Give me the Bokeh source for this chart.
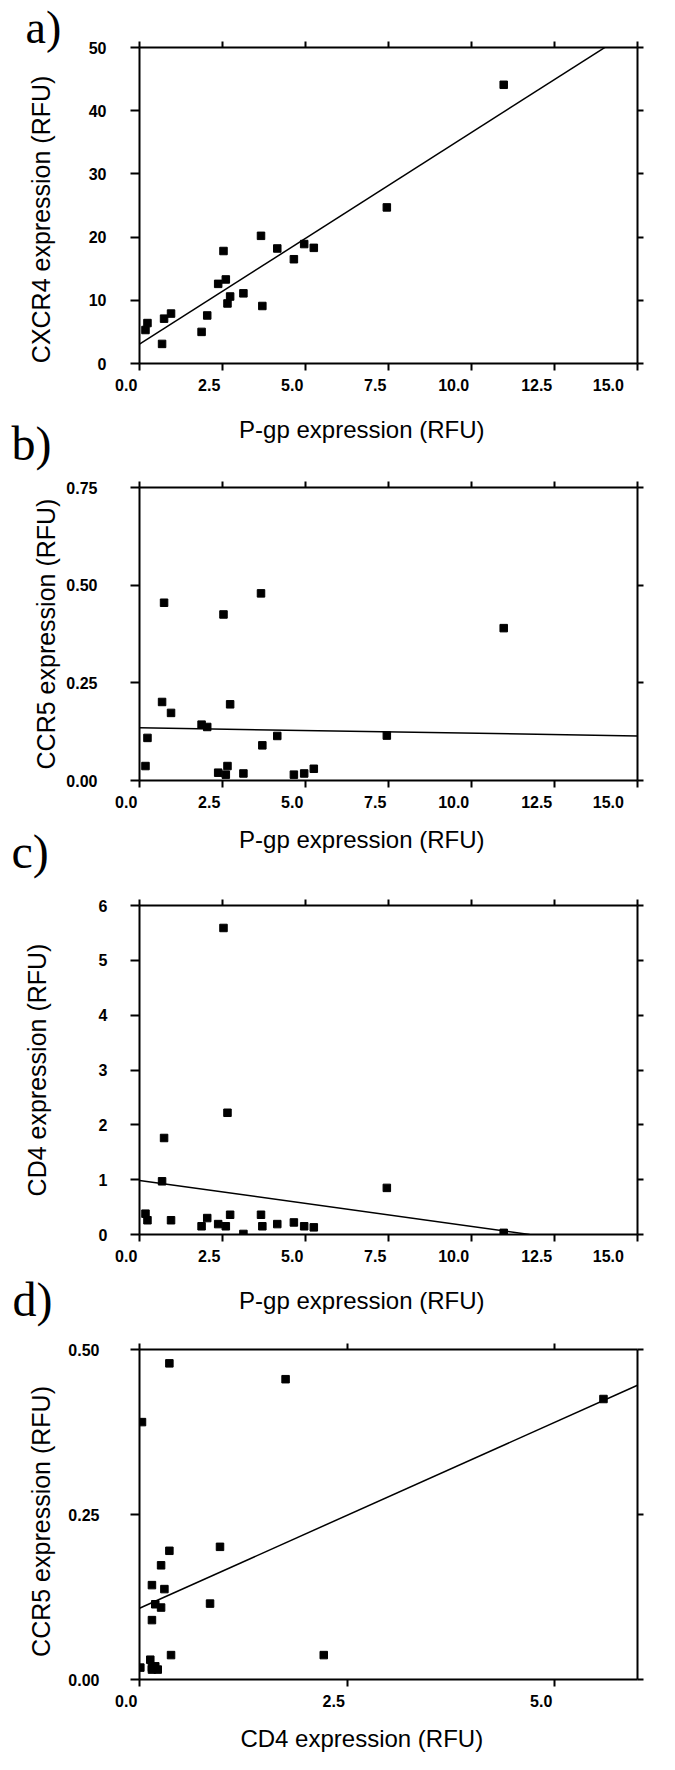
from bokeh.plotting import figure
from bokeh.layouts import column
from bokeh.models import (LinearAxis, FixedTicker, Range1d, Title,
                          PrintfTickFormatter, CustomJSTickFormatter)
from bokeh.embed import file_html
from bokeh.resources import INLINE

# ---------------- data (one entry per patient) ----------------
pgp   = [0.18, 0.24, 0.68, 0.74, 0.95, 1.87, 2.04, 2.37, 2.53, 2.60, 2.65,
         2.73, 3.13, 3.66, 3.70, 4.15, 4.65, 4.96, 5.25, 7.45, 10.97]
cxcr4 = [5.3, 6.4, 3.1, 7.1, 7.9, 5.0, 7.6, 12.6, 17.8, 13.3, 9.5,
         10.6, 11.1, 20.2, 9.1, 18.2, 16.5, 18.9, 18.3, 24.7, 44.1]
ccr5  = [0.037, 0.109, 0.201, 0.455, 0.173, 0.143, 0.137, 0.020, 0.425, 0.015, 0.037,
         0.195, 0.018, 0.479, 0.090, 0.114, 0.015, 0.018, 0.030, 0.115, 0.390]
cd4   = [0.38, 0.26, 0.97, 1.76, 0.26, 0.15, 0.30, 0.19, 5.59, 0.15, 2.22,
         0.36, 0.01, 0.36, 0.15, 0.19, 0.22, 0.15, 0.13, 0.85, 0.03]

# regression lines: [intercept, slope], drawn over fit_x_*
fit_a = [3.05, 3.35]
fit_b = [0.135, -0.0014]
fit_c = [0.985, -0.0838]
fit_d = [0.108, 0.0563]
fit_x_a = [0.0, 15.0]
fit_x_b = [0.0, 15.0]
fit_x_c = [0.0, 11.75]
fit_x_d = [0.0, 6.0]

x_ticks_pgp = [0, 2.5, 5, 7.5, 10, 12.5, 15]
y_ticks_a = [0, 10, 20, 30, 40, 50]
y_ticks_b = [0, 0.25, 0.5, 0.75]
y_ticks_c = [0, 1, 2, 3, 4, 5, 6]
x_ticks_d = [0, 2.5, 5]
y_ticks_d = [0, 0.25, 0.5]

TICK_FONT = "Liberation Sans"
LABEL_FONT = "Liberation Sans"
LETTER_FONT = "Liberation Serif"
W = 659
FS = "\u2007"  # figure space, used to nudge centred texts sideways


def make_axis(ticks, fmt=None, out=7, standoff=6, label=None, label_size="24px",
              label_standoff=10, right_align_digits=None):
    ax = LinearAxis(ticker=FixedTicker(ticks=ticks))
    ax.axis_line_width = 2
    ax.axis_line_color = "black"
    ax.major_tick_line_width = 2
    ax.major_tick_line_color = "black"
    ax.major_tick_in = 0
    ax.major_tick_out = out
    ax.minor_tick_line_color = None
    if fmt is None and right_align_digits is None:
        ax.formatter = CustomJSTickFormatter(code="return ''")
        ax.major_label_standoff = 0
        ax.major_label_text_font_size = "1px"
    else:
        if right_align_digits is not None:
            # labels end at their tick, as in the original figure
            ax.formatter = CustomJSTickFormatter(
                code="const s = tick.toFixed(%d); return s + '\\u2007'.repeat(s.length);"
                % right_align_digits)
        else:
            ax.formatter = PrintfTickFormatter(format=fmt)
        ax.major_label_text_font = TICK_FONT
        ax.major_label_text_font_style = "bold"
        ax.major_label_text_font_size = "16px"
        ax.major_label_text_color = "black"
        ax.major_label_standoff = standoff
    if label:
        ax.axis_label = label
        ax.axis_label_text_font = LABEL_FONT
        ax.axis_label_text_font_style = "normal"
        ax.axis_label_text_font_size = label_size
        ax.axis_label_text_color = "black"
        ax.axis_label_standoff = label_standoff
    return ax


def panel(height, borders, xr, yr, xt, yt, yfmt, xlabel, ylabel,
          xs, ys, fit, fit_x, y_standoff, ylabel_standoff, xlabel_standoff):
    bl, br, bt, bb = borders
    p = figure(width=W, height=height, x_range=Range1d(*xr), y_range=Range1d(*yr),
               x_axis_location=None, y_axis_location=None,
               output_backend="svg", toolbar_location=None,
               min_border_left=bl, min_border_right=br,
               min_border_top=bt, min_border_bottom=bb)
    p.grid.visible = False
    p.outline_line_color = None
    p.background_fill_color = "white"
    p.border_fill_color = "white"
    p.add_layout(make_axis(xt, None, out=7, standoff=6, label=xlabel, label_size="24px",
                           label_standoff=xlabel_standoff, right_align_digits=1), "below")
    p.add_layout(make_axis(yt, yfmt, out=9, standoff=y_standoff, label=ylabel,
                           label_size="25px", label_standoff=ylabel_standoff), "left")
    p.add_layout(make_axis(xt, None, out=6), "above")
    p.add_layout(make_axis(yt, None, out=6), "right")
    p.line(fit_x, [fit[0] + fit[1] * x for x in fit_x], line_width=1.5, color="black")
    p.scatter(xs, ys, marker="square", size=7.5, color="black")
    return p


def letter(p, text, side, offset, standoff, valign, size="48px"):
    p.add_layout(Title(text=text, align="left", offset=offset, standoff=standoff,
                       vertical_align=valign, text_font=LETTER_FONT,
                       text_font_size=size, text_font_style="normal",
                       text_color="black"), side)


pa = panel(474, (139, 22, 47, 111), (0, 15), (0, 50), x_ticks_pgp, y_ticks_a,
           "%d", "P-gp expression (RFU)" + FS * 4, "CXCR4 expression (RFU)" + FS * 2,
           pgp, cxcr4, fit_a, fit_x_a, 24, 31, 19)
pb = panel(413, (139, 15, 13, 107), (0, 15), (0, 0.75), x_ticks_pgp, y_ticks_b,
           "%.2f", "P-gp expression (RFU)" + FS * 4, "CCR5 expression (RFU)",
           pgp, ccr5, fit_b, fit_x_b, 33, 3, 12)
pc = panel(440, (136, 16, 18, 93), (0, 15), (0, 6), x_ticks_pgp, y_ticks_c,
           "%d", "P-gp expression (RFU)" + FS * 4, "CD4 expression (RFU)",
           pgp, cd4, fit_c, fit_x_c, 23, 45, 19)
pd = panel(427, (134, 9, 22, 74), (0, 6), (0, 0.5), x_ticks_d, y_ticks_d,
           "%.2f", "CD4 expression (RFU)" + FS * 4, "CCR5 expression (RFU)" + FS,
           cd4, ccr5, fit_d, fit_x_d, 31, 10, 12)

# panel letters (each sits level with the x title of the panel above it)
letter(pa, "a)", "above", -114, -22, "bottom", size="46px")
letter(pa, "b)", "below", -128, -58, "top")
letter(pb, "c)", "below", -128, -62, "top")
letter(pc, "d)", "below", -127, -88, "top")

layout = column(pa, pb, pc, pd, spacing=0)

with open("out.html", "w") as f:
    f.write(file_html(layout, INLINE))
